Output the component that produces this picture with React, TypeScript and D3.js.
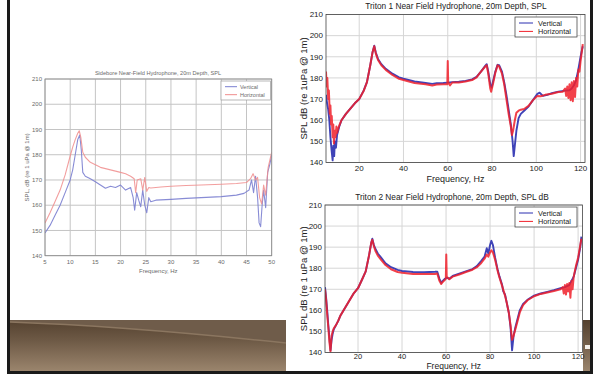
import React from "react";
import * as d3 from "d3";

// ---------- Data ----------
const yTicks = [140, 150, 160, 170, 180, 190, 200, 210];
const leftXTicks = [5, 10, 15, 20, 25, 30, 35, 40, 45, 50];
const tritonXTicks = [20, 40, 60, 80, 100, 120];
const legendNames = ["Vertical", "Horizontal"];

// Left chart (5-50 Hz)
const lVertHz = [5, 6, 7, 8, 9, 10, 10.5, 11, 11.5, 11.9, 12.2, 12.5, 13, 14, 15, 16, 17, 18, 19, 20, 21, 22, 22.5, 22.8, 23.2, 23.6, 24, 24.4, 24.8, 25.2, 25.6, 26, 27, 30, 33, 36, 40, 43, 44.5, 45.5, 46, 46.4, 46.8, 47.2, 47.5, 47.8, 48.1, 48.4, 48.8, 49.2, 49.6, 50];
const lVertDb = [149, 152, 156, 160, 165, 170, 174, 180, 186, 187.8, 182, 173, 171.5, 170.5, 169.3, 168, 166.7, 167.5, 167, 168, 166, 167, 163, 158, 165, 162, 159.4, 166, 160, 157, 163, 161.4, 162, 162.3, 162.7, 163, 163.4, 164, 164.7, 166, 170, 165, 171.5, 163, 153, 151.5, 160, 166, 159, 173, 176, 180];
const lHorzHz = [5, 6, 7, 8, 9, 10, 10.5, 11, 11.5, 11.8, 12.1, 12.5, 13, 14, 15, 16, 17, 18, 19, 20, 21, 22, 22.7, 23, 23.3, 24, 24.4, 24.8, 25.2, 25.6, 26, 28, 30, 33, 36, 40, 43, 45, 45.8, 46.3, 46.8, 47.2, 47.6, 48, 48.4, 48.8, 49.3, 50];
const lHorzDb = [153, 157, 161.5, 166, 172, 179.5, 183, 186, 188.5, 189.5, 187, 181, 179, 177, 176, 175, 174.5, 174, 173.5, 173, 172.5, 171.5, 170.5, 165, 170, 170.5, 166, 171, 165.5, 167, 166.8, 167.2, 167.5, 167.8, 168, 168.3, 168.6, 169, 170.5, 172.5, 170, 171, 163, 160.5, 168, 164, 175, 181];

// Triton 1 (5-122 Hz)
const t1VertHz = [5, 5.5, 6, 6.5, 7, 7.5, 8, 8.3, 8.7, 9, 9.5, 10, 10.5, 11, 12, 14, 16, 18, 20, 22, 23.5, 25, 26, 26.8, 27.5, 28.5, 30, 32, 35, 38, 40, 45, 50, 53, 55, 58, 60, 62, 65, 68, 71, 73, 75, 77, 77.6, 78.3, 79.2, 79.8, 80.5, 81.5, 82.5, 83.2, 84.5, 85.5, 86.5, 87.5, 88.5, 89.3, 89.8, 90.3, 91, 92, 93, 94.5, 96.5, 98.5, 100.5, 101.5, 103, 105, 107, 110, 113, 115, 116, 117, 118, 119, 120, 121];
const t1VertDb = [172, 168, 165, 160, 152, 146, 141, 148, 143, 150, 147, 153, 155, 157, 160, 163, 165.5, 168, 170, 174, 178, 186, 192, 195.2, 192, 189, 186.5, 184.3, 182, 180.3, 179.6, 178.3, 177.6, 177.2, 177.5, 177.6, 177.8, 178, 178.2, 178.6, 179.3, 180.5, 183, 185.8, 186.5, 183, 177, 175.5, 178.5, 183, 186.2, 186, 183, 178, 172, 165, 158, 150, 143, 148, 155, 161, 163, 164.5, 166.5, 169.5, 172.5, 173, 171.5, 172, 172.8, 173.5, 174, 174.2, 175, 176.5, 179, 184, 190, 195];
const t1HorzHz = [5, 5.3, 5.6, 6, 6.3, 6.7, 7, 7.3, 7.6, 8, 8.3, 8.6, 9, 9.3, 9.7, 10, 10.5, 11, 12, 14, 16, 18, 20, 22, 23.5, 25, 26, 26.8, 27.5, 28.5, 30, 32, 35, 38, 40, 45, 50, 53, 55, 58, 59.8, 60, 60.2, 61, 62, 65, 68, 71, 73, 75, 77, 77.6, 78.3, 79.2, 79.6, 80.5, 81.5, 82.5, 83.2, 84.5, 85.5, 86.5, 87.5, 88.5, 89, 89.5, 90.3, 91, 92, 93, 94.5, 96.5, 98.5, 100.5, 102, 104, 107, 110, 112, 113, 113.5, 114, 114.5, 115, 115.5, 116, 116.5, 117, 117.5, 118, 118.5, 119, 119.5, 120, 120.5, 121];
const t1HorzDb = [183, 176, 180, 170, 174, 163, 167, 158, 162, 152, 158, 149, 155, 152, 157, 154, 156, 157.5, 160, 163, 165.5, 168, 170, 173.8, 178, 186, 192, 195, 191.5, 188.5, 186, 183.8, 181.4, 179.6, 179, 177.6, 177, 176.4, 176.9, 177, 177, 188, 178, 176.5, 177.8, 177.8, 178.3, 179, 180.3, 183, 185.5, 186, 182, 175, 173.5, 177.5, 182.5, 186, 185.5, 182, 177, 170, 163, 157, 153, 155, 160, 163.5, 164.5, 165, 165.3, 166.8, 169.5, 171.5, 171.3, 172, 172.5, 173.3, 173.5, 175, 171.5, 176, 170.5, 177, 169.5, 178, 169, 178.5, 171, 180, 176, 184, 183, 188, 192, 196];

// Triton 2 (5-122 Hz)
const t2VertHz = [5, 5.5, 6, 6.5, 7, 7.5, 8, 8.5, 9, 10, 11, 12, 14, 16, 18, 20, 22, 23.5, 25, 26, 26.5, 27.2, 28, 29, 30.5, 32.5, 35, 38, 40, 45, 50, 55, 56, 57, 57.8, 58.5, 59.5, 60.3, 61.5, 63, 66, 69, 72, 74, 76, 77.5, 78.5, 79.2, 80, 80.6, 81.3, 82.3, 83.5, 84.3, 85.5, 86, 86.8, 87.5, 88.5, 89.3, 90, 90.7, 91.5, 92.5, 93.5, 95, 97, 100, 103, 106, 109, 112, 114, 115, 116, 117, 118, 119, 120, 121, 121.5];
const t2VertDb = [171, 166, 160, 153, 147, 141, 146, 149, 151, 153, 155, 157.5, 161, 164.5, 168, 170.5, 175, 178.5, 186, 192, 194, 191, 189, 187, 185, 182.3, 180.5, 179.2, 178.7, 178.2, 178.1, 178.3, 178.4, 175, 173, 174, 175, 175.5, 175, 176.3, 177.4, 178.5, 179.6, 181, 183.5, 185.5, 189.5, 187, 191, 193, 191, 185, 179, 176, 172, 169, 167.5, 164, 159, 152, 141, 148, 152, 156, 160, 163, 165, 167, 168, 168.8, 169.6, 170.5, 171, 171.5, 172, 174, 176, 180, 184, 190, 195];
const t2HorzHz = [5, 5.5, 6, 6.5, 7, 7.5, 8, 8.5, 9, 10, 11, 12, 14, 16, 18, 20, 22, 23.5, 25, 26, 26.5, 27.2, 28, 29, 30.5, 32.5, 35, 38, 40, 45, 50, 55, 56, 57, 57.8, 58.5, 59.5, 59.9, 60.1, 60.3, 61.5, 63, 66, 69, 72, 74, 76, 77.5, 78.5, 79.2, 80, 80.6, 81.3, 82.3, 83.5, 84.3, 85.5, 86.8, 87.5, 88.5, 89.3, 90, 90.7, 91.5, 92.5, 93.5, 95, 97, 100, 103, 106, 109, 112, 113, 113.5, 114, 114.5, 115, 115.5, 116, 116.5, 117, 117.5, 118, 119, 120, 121, 121.5];
const t2HorzDb = [170, 165, 158, 152, 145, 140.5, 148, 150, 151.5, 153, 155, 157.5, 161, 164.5, 168, 170.5, 175, 178.5, 186, 192, 193.5, 190.5, 188, 186, 184, 181.5, 179.5, 178.2, 177.8, 177.3, 177.2, 177.3, 177.5, 174, 172.5, 173.5, 174.5, 175, 186.5, 176, 174.8, 176, 177, 178.2, 179.3, 180.5, 182.5, 184.5, 186.5, 185.5, 187.5, 188.5, 187.5, 184, 178.5, 175.5, 171.5, 167, 164, 159, 153, 146, 148, 151, 155, 159, 162.5, 164.8, 166.7, 167.8, 168.5, 169.2, 170, 171, 168, 172, 167.5, 172.5, 169, 173, 166, 174, 170, 176, 181, 185, 191, 194];

const zip = (a: number[], b: number[]) => a.map((v, i) => [v, b[i]] as [number, number]);

type Cfg = {
  id: string;
  left: number; right: number; top: number; bottom: number;
  xDomain: [number, number];
  xTicks: number[];
  title: string; titleX: number; titleY: number;
  ylabel: string; ylabelX: number;
  xlabel: string; xlabelY: number; xlabelSize: number; tickY: number; tickSize: number;
  vert: [number, number][]; horz: [number, number][];
  small: boolean;
  legend: { x: number; y: number; w: number; h: number };
};

function Chart({ c }: { c: Cfg }) {
  const x = d3.scaleLinear().domain(c.xDomain).range([c.left, c.right]);
  const y = d3.scaleLinear().domain([140, 210]).range([c.bottom, c.top]);
  const line = d3.line<[number, number]>().x((d) => x(d[0])).y((d) => y(d[1]));
  const txt = c.small ? "#6a6a6a" : "#222";
  const fs = c.small ? 6 : 8;
  const grid = c.small ? "#c4c4c4" : "#d6d6d6";
  const vCol = c.small ? "#7b7fd0" : "#2a2fb0";
  const hCol = c.small ? "#f08d8d" : "#f0202a";
  const cx = (c.left + c.right) / 2;
  const lg = c.legend;
  return (
    <g fontFamily="Liberation Sans, Arial, sans-serif">
      <defs>
        <clipPath id={"clip" + c.id}>
          <rect x={c.left} y={c.top} width={c.right - c.left} height={c.bottom - c.top} />
        </clipPath>
      </defs>
      <rect x={c.left} y={c.top} width={c.right - c.left} height={c.bottom - c.top} fill="#fff" />
      {c.xTicks.map((t) => (
        <line key={"gx" + t} x1={x(t)} x2={x(t)} y1={c.top} y2={c.bottom} stroke={grid} strokeWidth={1} />
      ))}
      {yTicks.map((t) => (
        <line key={"gy" + t} x1={c.left} x2={c.right} y1={y(t)} y2={y(t)} stroke={grid} strokeWidth={1} />
      ))}
      <g clipPath={`url(#clip${c.id})`}>
        <path d={line(c.vert) || ""} fill="none" stroke={vCol} strokeWidth={c.small ? 1.1 : 1.9} strokeLinejoin="round" opacity={0.9} />
        <path d={line(c.horz) || ""} fill="none" stroke={hCol} strokeWidth={c.small ? 1.1 : 2} strokeLinejoin="round" opacity={0.85} />
      </g>
      <rect x={c.left} y={c.top} width={c.right - c.left} height={c.bottom - c.top} fill="none" stroke={c.small ? "#888" : "#444"} strokeWidth={0.8} />
      {yTicks.map((t) => (
        <text key={"ty" + t} x={c.left - 3} y={y(t) + fs * 0.35} textAnchor="end" fontSize={fs} fill={txt}>{t}</text>
      ))}
      {c.xTicks.map((t) => (
        <text key={"tx" + t} x={x(t)} y={c.tickY} textAnchor="middle" fontSize={c.tickSize} fill={txt}>{t}</text>
      ))}
      <text x={c.titleX} y={c.titleY} textAnchor="middle" fontSize={c.small ? 5.6 : 8.3} fill={txt}>{c.title}</text>
      <text x={cx} y={c.xlabelY} textAnchor="middle" fontSize={c.xlabelSize} fill={txt}>{c.xlabel}</text>
      <text transform={`translate(${c.ylabelX},${(c.top + c.bottom) / 2}) rotate(-90)`} textAnchor="middle" fontSize={c.small ? 6 : 9.5} fill={txt}>{c.ylabel}</text>
      <rect x={lg.x} y={lg.y} width={lg.w} height={lg.h} fill="#fff" stroke={c.small ? "#999" : "#333"} strokeWidth={0.7} />
      {legendNames.map((n, i) => {
        const ly = lg.y + lg.h * (i === 0 ? 0.3 : 0.72);
        return (
          <g key={n}>
            <line x1={lg.x + 4} x2={lg.x + (c.small ? 16 : 18)} y1={ly} y2={ly} stroke={i === 0 ? vCol : hCol} strokeWidth={1} />
            <text x={lg.x + (c.small ? 19 : 23)} y={ly + (c.small ? 2 : 2.6)} fontSize={c.small ? 5.5 : 7.3} fill={txt}>{n}</text>
          </g>
        );
      })}
    </g>
  );
}

const charts: Cfg[] = [
  {
    id: "l", left: 45, right: 271.7, top: 79, bottom: 255.7, xDomain: [5, 50], xTicks: leftXTicks,
    title: "Sidebore Near-Field Hydrophone, 20m Depth, SPL", titleX: 158, titleY: 75,
    ylabel: "SPL, dB (re 1 uPa @ 1m)", ylabelX: 29, xlabel: "Frequency, Hz", xlabelY: 272.5, xlabelSize: 6, tickY: 263.5, tickSize: 6,
    vert: zip(lVertHz, lVertDb), horz: zip(lHorzHz, lHorzDb), small: true,
    legend: { x: 221, y: 81, w: 49.5, h: 19 },
  },
  {
    id: "t1", left: 326, right: 585, top: 14.5, bottom: 162.5, xDomain: [5, 122], xTicks: tritonXTicks,
    title: "Triton 1 Near Field Hydrophone, 20m Depth, SPL", titleX: 456, titleY: 9,
    ylabel: "SPL dB (re 1uPa @ 1m)", ylabelX: 307, xlabel: "Frequency, Hz", xlabelY: 181.5, xlabelSize: 9, tickY: 171, tickSize: 8,
    vert: zip(t1VertHz, t1VertDb), horz: zip(t1HorzHz, t1HorzDb), small: false,
    legend: { x: 515, y: 17, w: 62, h: 20 },
  },
  {
    id: "t2", left: 325, right: 582.5, top: 205, bottom: 352.5, xDomain: [5, 122], xTicks: tritonXTicks,
    title: "Triton 2 Near Field Hydrophone, 20m Depth, SPL dB", titleX: 452, titleY: 200,
    ylabel: "SPL dB (re 1 uPa @ 1m)", ylabelX: 307, xlabel: "Frequency, Hz", xlabelY: 369, xlabelSize: 8.5, tickY: 359, tickSize: 7.5,
    vert: zip(t2VertHz, t2VertDb), horz: zip(t2HorzHz, t2HorzDb), small: false,
    legend: { x: 515, y: 207, w: 62, h: 20 },
  },
];

export default function App() {
  return (
    <svg width={599} height={375} style={{ position: "fixed", left: 0, top: 0, background: "#fff" }}>
      <defs>
        <linearGradient id="brown" x1="0" y1="0" x2="0" y2="1">
          <stop offset="0%" stopColor="#54412f" />
          <stop offset="40%" stopColor="#6e5a46" />
          <stop offset="100%" stopColor="#9c866e" />
        </linearGradient>
      </defs>
      <rect x={0} y={0} width={599} height={375} fill="#fff" />
      {/* brown band */}
      <rect x={10} y={320} width={276} height={52} fill="url(#brown)" />
      <path d="M10,320 L286,320 L286,343 C220,336 120,326 10,322 Z" fill="#6f5c4a" />
      <path d="M10,322 C120,326 220,336 286,343" fill="none" stroke="#8b7660" strokeWidth={1.5} />
      <rect x={583} y={320} width={7} height={52} fill="url(#brown)" />
      <rect x={585} y={345} width={5} height={4} fill="#f4f0ea" />
      {charts.map((c) => (
        <Chart key={c.id} c={c} />
      ))}
      {/* frame */}
      <rect x={7} y={0} width={3} height={374} fill="#1a1a1a" />
      <rect x={590} y={0} width={3} height={374} fill="#1a1a1a" />
      <rect x={7} y={371} width={586} height={3} fill="#1a1a1a" />
    </svg>
  );
}
